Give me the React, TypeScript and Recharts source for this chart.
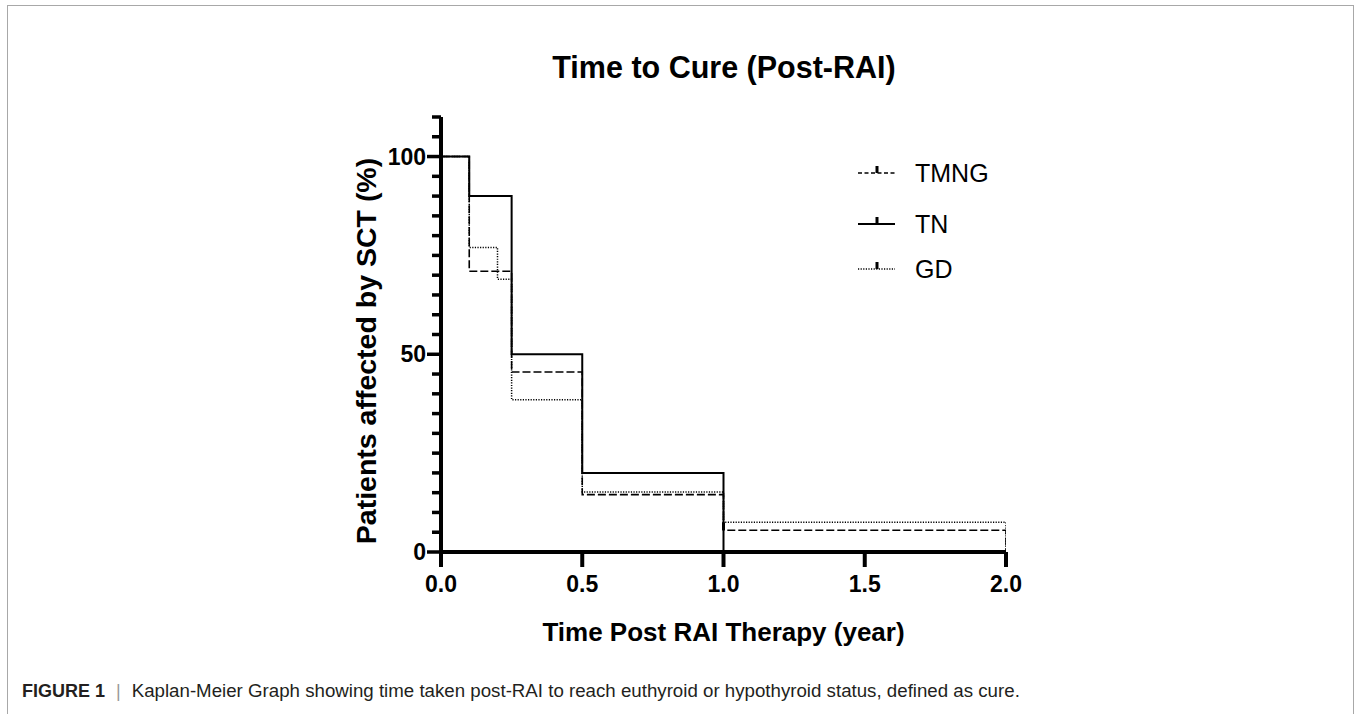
import React from 'react';
import { ComposedChart, Line, XAxis, YAxis, Scatter, Label } from 'recharts';

const TN_TIME = [0, 0.1, 0.25, 0.5, 1.0];
const TN_VALUE = [100, 90, 50, 20, 0];
const TMNG_TIME = [0, 0.1, 0.25, 0.5, 1.0, 2.0];
const TMNG_VALUE = [100, 71, 45.5, 14.5, 5.5, 0];
const GD_TIME = [0, 0.1, 0.2, 0.25, 0.5, 1.0, 2.0];
const GD_VALUE = [100, 77, 69, 38.5, 15.2, 7.5, 0];
const CENSOR_TIME = [1.0];
const CENSOR_VALUE = [5.5];

const X_TICKS = [0, 0.5, 1, 1.5, 2];
const Y_TICKS = [0, 5, 10, 15, 20, 25, 30, 35, 40, 45, 50, 55, 60, 65, 70, 75, 80, 85, 90, 95, 100, 105, 110];
const Y_LABELED = [0, 50, 100];

const SERIES_NAMES = ['TMNG', 'TN', 'GD'];

const TITLE = 'Time to Cure (Post-RAI)';
const X_LABEL = 'Time Post RAI Therapy (year)';
const Y_LABEL = 'Patients affected by SCT (%)';
const CAPTION_HEAD = 'FIGURE 1';
const CAPTION_TEXT = 'Kaplan-Meier Graph showing time taken post-RAI to reach euthyroid or hypothyroid status, defined as cure.';

const toRows = (ts: number[], vs: number[]) => ts.map((t, i) => ({ t, v: vs[i] }));
const tnData = toRows(TN_TIME, TN_VALUE);
const tmngData = toRows(TMNG_TIME, TMNG_VALUE);
const gdData = toRows(GD_TIME, GD_VALUE);
const censorData = toRows(CENSOR_TIME, CENSOR_VALUE);

const FONT = "Arial, 'Liberation Sans', Helvetica, sans-serif";

const YTick = (props: any) => {
  const { x, y, payload } = props;
  const major = Y_LABELED.includes(payload.value);
  return (
    <g>
      <line x1={x - (major ? 14 : 9)} x2={x} y1={y} y2={y} stroke="#000" strokeWidth={3.5} />
      {major && (
        <text x={x - 15} y={y + 8} textAnchor="end" fontFamily={FONT} fontWeight="bold" fontSize={23} fill="#000">
          {payload.value}
        </text>
      )}
    </g>
  );
};

const XTick = (props: any) => {
  const { x, y, payload } = props;
  return (
    <g>
      <line x1={x} x2={x} y1={y} y2={y + 15} stroke="#000" strokeWidth={4} />
      <text x={x} y={y + 40} textAnchor="middle" fontFamily={FONT} fontWeight="bold" fontSize={23} fill="#000">
        {Number(payload.value).toFixed(1)}
      </text>
    </g>
  );
};

const CensorMark = (props: any) => {
  const { cx, cy } = props;
  return <line x1={cx} x2={cx} y1={cy} y2={cy - 8} stroke="#000" strokeWidth={3} />;
};

const LegendBox = () => {
  const rows = [
    { name: SERIES_NAMES[0], dash: '4 2.5', y: 18, w: 1.6 },
    { name: SERIES_NAMES[1], dash: undefined, y: 69, w: 2 },
    { name: SERIES_NAMES[2], dash: '1.2 1.4', y: 114, w: 1.5 },
  ];
  return (
    <svg width={200} height={140} style={{ position: 'absolute', left: 855, top: 155, overflow: 'visible' }}>
      {rows.map((r) => (
        <g key={r.name}>
          <line x1={3} x2={40} y1={r.y} y2={r.y} stroke="#000" strokeWidth={r.w} strokeDasharray={r.dash} />
          <line x1={22} x2={22} y1={r.y} y2={r.y - 7} stroke="#000" strokeWidth={3} />
          <text x={60} y={r.y + 9} fontFamily={FONT} fontSize={25} fill="#000">{r.name}</text>
        </g>
      ))}
    </svg>
  );
};

export default function App() {
  return (
    <div style={{ position: 'absolute', left: 0, top: 0, width: 1356, height: 714, background: '#fff', overflow: 'hidden' }}>
      <div
        style={{
          position: 'absolute', left: 7, top: 5, width: 1345, height: 720,
          borderLeft: '1.5px solid #a8a8a8', borderTop: '1.5px solid #a8a8a8', borderRight: '1.5px solid #a8a8a8',
        }}
      />
      <div
        style={{
          position: 'absolute', left: 0, top: 50, width: 1448, textAlign: 'center',
          fontFamily: FONT, fontWeight: 'bold', fontSize: 30.5, color: '#000', lineHeight: '34px',
        }}
      >
        {TITLE}
      </div>
      <div style={{ position: 'absolute', left: 0, top: 0 }}>
        <ComposedChart width={1356} height={714} margin={{ top: 117, left: 381, right: 350, bottom: 122 }}>
          <XAxis
            type="number"
            dataKey="t"
            domain={[0, 2]}
            ticks={X_TICKS}
            interval={0}
            height={40}
            tickSize={0}
            tickMargin={0}
            tickLine={false}
            axisLine={{ stroke: '#000', strokeWidth: 4 }}
            tick={<XTick />}
            allowDataOverflow
          >
            <Label
              content={(p: any) => {
                const vb = p.viewBox;
                return (
                  <text x={vb.x + vb.width / 2} y={vb.y + 89} textAnchor="middle" fontFamily={FONT} fontWeight="bold" fontSize={26} fill="#000">
                    {X_LABEL}
                  </text>
                );
              }}
            />
          </XAxis>
          <YAxis
            type="number"
            dataKey="v"
            domain={[0, 110]}
            ticks={Y_TICKS}
            interval={0}
            width={60}
            tickSize={0}
            tickMargin={0}
            tickLine={false}
            axisLine={{ stroke: '#000', strokeWidth: 4 }}
            tick={<YTick />}
            allowDataOverflow
          >
            <Label
              content={(p: any) => {
                const vb = p.viewBox;
                const cx = vb.x - 15;
                const cy = 351;
                return (
                  <text x={cx} y={cy} textAnchor="middle" dominantBaseline="central" transform={`rotate(-90 ${cx} ${cy})`} fontFamily={FONT} fontWeight="bold" fontSize={28.5} fill="#000">
                    {Y_LABEL}
                  </text>
                );
              }}
            />
          </YAxis>
          <Line data={gdData} dataKey="v" type="stepAfter" stroke="#000" strokeWidth={1.5} strokeDasharray="1.2 1.4" dot={false} isAnimationActive={false} name="GD" legendType="none" />
          <Line data={tmngData} dataKey="v" type="stepAfter" stroke="#000" strokeWidth={1.6} strokeDasharray="8 3" dot={false} isAnimationActive={false} name="TMNG" legendType="none" />
          <Line data={tnData} dataKey="v" type="stepAfter" stroke="#000" strokeWidth={2} dot={false} isAnimationActive={false} name="TN" legendType="none" />
          <Scatter data={censorData} dataKey="v" shape={<CensorMark />} isAnimationActive={false} legendType="none" />
        </ComposedChart>
      </div>
      <LegendBox />
      <div
        style={{
          position: 'absolute', left: 22, top: 680, whiteSpace: 'nowrap',
          fontFamily: FONT, fontSize: 18, color: '#231f20', lineHeight: '22px',
        }}
      >
        <span style={{ fontWeight: 'bold' }}>{CAPTION_HEAD}</span>
        <span style={{ color: '#999', margin: '0 11px' }}>|</span>
        <span style={{ fontSize: 18.7 }}>{CAPTION_TEXT}</span>
      </div>
    </div>
  );
}
